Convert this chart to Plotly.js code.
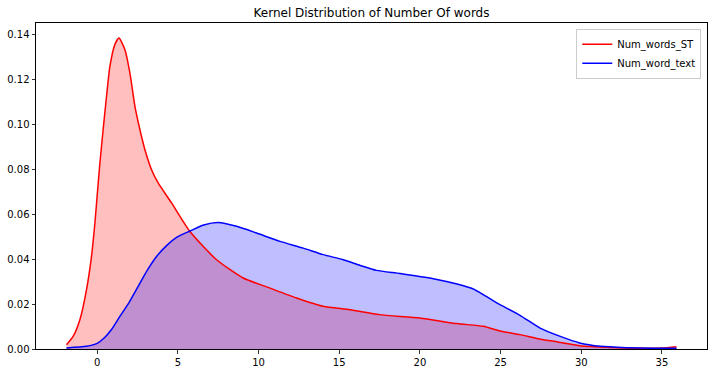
<!DOCTYPE html>
<html>
<head>
<meta charset="utf-8">
<script src="https://cdn.plot.ly/plotly-3.0.1.min.js"></script>
<style>html,body{margin:0;padding:0;background:#fff;}#chart{width:716px;height:373px;}</style>
</head>
<body>
<div id="chart"></div>
<script>
const seriesNames = ["Num_words_ST", "Num_word_text"];
const redX = [-1.9,-1.49,-1.07,-0.66,-0.35,-0.14,0.03,0.17,0.37,0.58,0.79,1.1,1.35,1.72,2.03,2.34,2.65,2.96,3.37,3.78,4.61,5.75,7.4,9.05,10.71,12.36,14.0,15.67,17.5,20.0,22.3,23.93,24.97,26.2,27.4,28.3,29.9,31.8,33.8,35.0,35.9];
const redY = [0.0019,0.0056,0.013,0.0264,0.0412,0.0561,0.0709,0.0828,0.0976,0.1124,0.1258,0.1356,0.1384,0.1332,0.1228,0.108,0.0976,0.0887,0.0798,0.0739,0.065,0.0523,0.0397,0.0316,0.0271,0.0227,0.019,0.0175,0.0153,0.0138,0.0113,0.0101,0.0080,0.0064,0.0045,0.0034,0.0015,0.0007,0.0003,0.0004,0.001];
const blueX = [-1.9,-0.66,0.0,0.45,0.9,1.41,2.0,2.54,3.1,3.68,4.3,4.92,5.75,6.6,7.5,8.64,9.88,11.33,12.77,14.0,15.2,16.3,17.3,18.77,20.83,22.3,23.31,23.93,24.76,26.2,27.45,28.7,29.9,31.2,32.8,34.5,35.9];
const blueY = [0.0005,0.0012,0.0025,0.005,0.0088,0.0145,0.021,0.0279,0.035,0.0412,0.046,0.0497,0.0525,0.0552,0.0563,0.0546,0.0516,0.0479,0.0449,0.042,0.0398,0.0372,0.035,0.0336,0.0313,0.0289,0.0267,0.0242,0.0205,0.015,0.0093,0.0056,0.0027,0.0012,0.0006,0.0003,0.0003];
const xTicks = [0,5,10,15,20,25,30,35];
const yTicks = [0,0.02,0.04,0.06,0.08,0.10,0.12,0.14];

const font = "DejaVu Sans, sans-serif";
const lineShape = {shape: "spline", smoothing: 0.6};
const traces = [
  {x: redX, y: redY, mode: "lines", fill: "tozeroy", showlegend: false,
   fillcolor: "rgba(255,0,0,0.25)", line: Object.assign({color: "rgba(0,0,0,0)", width: 0}, lineShape)},
  {x: blueX, y: blueY, mode: "lines", fill: "tozeroy", showlegend: false,
   fillcolor: "rgba(0,0,255,0.25)", line: Object.assign({color: "rgba(0,0,0,0)", width: 0}, lineShape)},
  {x: redX, y: redY, name: seriesNames[0], mode: "lines",
   line: Object.assign({color: "red", width: 1.5}, lineShape)},
  {x: blueX, y: blueY, name: seriesNames[1], mode: "lines",
   line: Object.assign({color: "blue", width: 1.5}, lineShape)}
];
const axisCommon = {showline: true, mirror: true, linecolor: "#000", linewidth: 1, ticks: "outside",
  ticklen: 3.5, tickwidth: 0.8, tickcolor: "#000", showgrid: false, zeroline: false,
  tickfont: {family: font, size: 10, color: "#000"}};
const layout = {
  width: 716, height: 373,
  margin: {l: 36, r: 9.3, t: 23.3, b: 23.7},
  paper_bgcolor: "#fff", plot_bgcolor: "#fff",
  title: {text: "Kernel Distribution of Number Of words", font: {family: font, size: 12, color: "#000"},
          x: 0.5, xref: "paper", xanchor: "center", y: 1, yref: "paper", yanchor: "bottom", pad: {b: 6}},
  xaxis: Object.assign({}, axisCommon, {range: [-3.79, 37.79], tickvals: xTicks, ticktext: xTicks.map(String)}),
  yaxis: Object.assign({}, axisCommon, {range: [0, 0.1451], tickvals: yTicks, ticktext: yTicks.map(v => v.toFixed(2))}),
  showlegend: true,
  legend: {x: 0.9915, y: 0.9825, xanchor: "right", yanchor: "top", bgcolor: "rgba(255,255,255,0.8)",
           bordercolor: "#cccccc", borderwidth: 1, font: {family: font, size: 10, color: "#000"},
           itemwidth: 30, tracegroupgap: 0},
  hovermode: false
};
Plotly.newPlot("chart", traces, layout, {displayModeBar: false, staticPlot: true});
</script>
</body>
</html>
